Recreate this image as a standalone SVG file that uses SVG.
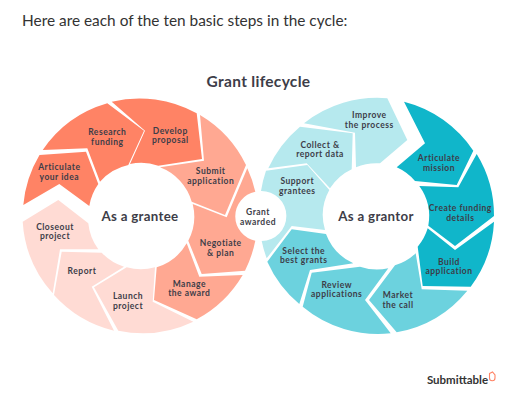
<svg xmlns="http://www.w3.org/2000/svg" width="530" height="404" viewBox="0 0 530 404">
<style>
text{font-family:Lato,"Liberation Sans",sans-serif;fill:#3d3d48;text-anchor:middle}
.l{font-size:8.5px;font-weight:700;letter-spacing:.5px}
.c{font-size:13.3px;font-weight:700;letter-spacing:.3px}
.a{fill:#ff8365}.b{fill:#ffa892}.d{fill:#ffdbd4}
.e{fill:#10b6ca}.f{fill:#6cd2de}.g{fill:#b6e9ee}
</style>
<rect width="530" height="404" fill="#fff"/>
<text x="22" y="26" style="text-anchor:start;font-size:15.4px;fill:#333">Here are each of the ten basic steps in the cycle:</text>
<text x="258.5" y="87" style="font-size:15.5px;font-weight:700;letter-spacing:.3px">Grant lifecycle</text>
<g id="grantee">
<g id="articulate-idea"><path class="a" d="M23.3 205A118 118 0 0 1 39.5 155L86 151.7 98.3 184A52 52 0 0 0 89.3 206L59.3 184Z"/><text class="l"><tspan x="59.3" y="170">Articulate</tspan><tspan x="59.3" y="179.7">your idea</tspan></text></g>
<g id="research-funding"><path class="a" d="M42.7 150A118 118 0 0 1 107.3 103.3L144 130.7 128.3 165A52 52 0 0 0 100 181.7L87.3 148.3Z"/><text class="l"><tspan x="107.3" y="135">Research</tspan><tspan x="107.3" y="144.5">funding</tspan></text></g>
<g id="develop-proposal"><path class="a" d="M111.7 101.7A118 118 0 0 1 196.7 113.3L202 159 158.3 165.7A52 52 0 0 0 130 164L145 130.7Z"/><text class="l"><tspan x="170.3" y="133.7">Develop</tspan><tspan x="170.3" y="143.2">proposal</tspan></text></g>
<g id="submit-application"><path class="b" d="M200 115A118 118 0 0 1 246 165L225 215 191.7 201.7A52 52 0 0 0 160 167.3L204 160.7Z"/><text class="l"><tspan x="210.7" y="174.3">Submit</tspan><tspan x="210.7" y="183.8">application</tspan></text></g>
<g id="negotiate-plan"><path class="b" d="M247.3 168.3A118 118 0 0 1 255.3 191.7A25 25 0 0 0 255.3 240.7A118 118 0 0 1 245 270.7L201.7 274 188.3 240.7A52 52 0 0 0 192.7 204L226.7 217.3Z"/><text class="l"><tspan x="220.7" y="246">Negotiate</tspan><tspan x="220.7" y="255.5">&amp; plan</tspan></text></g>
<g id="manage-award"><path class="b" d="M242.7 275A118 118 0 0 1 196.7 319.3L154 300 156.7 267.3A52 52 0 0 0 186.7 243.3L199.3 276.7Z"/><text class="l"><tspan x="189.3" y="286.7">Manage</tspan><tspan x="189.3" y="296.2">the award</tspan></text></g>
<g id="launch-project"><path class="d" d="M193.3 321.7A118 118 0 0 1 118.3 330.7L94 287.3 126.7 267.3A52 52 0 0 0 155 267.3L152.7 301.7Z"/><text class="l"><tspan x="128" y="299">Launch</tspan><tspan x="128" y="308.7">project</tspan></text></g>
<g id="report"><path class="d" d="M114 330.7A118 118 0 0 1 54 295L61.7 251.7 101.7 252.7A52 52 0 0 0 124 266.7L91.7 286.7Z"/><text class="l" x="82" y="274">Report</text></g>
<g id="closeout-project"><path class="d" d="M52.7 293.3A118 118 0 0 1 22.7 221.7L58.3 200 88.3 223.3A52 52 0 0 0 98.3 249.3L60 249.3Z"/><text class="l"><tspan x="55" y="229.7">Closeout</tspan><tspan x="55" y="239.2">project</tspan></text></g>
<g id="as-a-grantee"><text class="c" x="140" y="220.5">As a grantee</text></g>
</g>
<g id="grant-awarded"><text class="l"><tspan x="258" y="215.3">Grant</tspan><tspan x="258" y="224.8">awarded</tspan></text></g>
<g id="grantor">
<g id="articulate-mission"><path class="e" d="M404 101.7A118 118 0 0 1 473.3 150.7L456.7 185 415 181A52 52 0 0 0 396.7 167.3L425 143.3Z"/><text class="l"><tspan x="439" y="161">Articulate</tspan><tspan x="439" y="170.5">mission</tspan></text></g>
<g id="create-funding"><path class="e" d="M476.7 154A118 118 0 0 1 494 216L455 246 428.3 225.7A52 52 0 0 0 419.3 186L458.3 187.3Z"/><text class="l"><tspan x="460.3" y="211.3">Create funding</tspan><tspan x="460.3" y="221">details</tspan></text></g>
<g id="build-application"><path class="e" d="M494 221.7A118 118 0 0 1 470.7 286.7L422.7 286 417.7 246.7A52 52 0 0 0 427.7 228.3L455 250Z"/><text class="l"><tspan x="449" y="264.7">Build</tspan><tspan x="449" y="274.2">application</tspan></text></g>
<g id="market-call"><path class="f" d="M467.3 290.7A118 118 0 0 1 396.7 332.3L369 300 395 265.3A52 52 0 0 0 415.7 253.3L421.7 289.3Z"/><text class="l"><tspan x="398" y="298">Market</tspan><tspan x="398" y="307.5">the call</tspan></text></g>
<g id="review-applications"><path class="f" d="M390.7 333.3A118 118 0 0 1 302.7 306.7L311.7 272.7 360 266.7A52 52 0 0 0 388.3 268.3L365 300Z"/><text class="l"><tspan x="336.7" y="287.7">Review</tspan><tspan x="336.7" y="297.2">applications</tspan></text></g>
<g id="select-grants"><path class="f" d="M299.3 304A118 118 0 0 1 267.3 261.7L291.7 229.3 326 234A52 52 0 0 0 353.3 263.3L310 270Z"/><text class="l"><tspan x="303.7" y="253.7">Select the</tspan><tspan x="303.7" y="263.2">best grants</tspan></text></g>
<g id="support-grantees"><path class="g" d="M261 191A118 118 0 0 1 266 170.7L307.3 165 329.3 190A52 52 0 0 0 325 230L291.7 226 266.7 258.3A118 118 0 0 1 261.7 241A25 25 0 0 0 261 191Z"/><text class="l"><tspan x="297.3" y="184.3">Support</tspan><tspan x="297.3" y="193.8">grantees</tspan></text></g>
<g id="collect-report"><path class="g" d="M300 126.7A118 118 0 0 0 268.3 168.3L306.7 163.3 330 188.3A52 52 0 0 1 351.7 169.3L352.7 133.3Z"/><text class="l"><tspan x="320" y="147.7">Collect &amp;</tspan><tspan x="320" y="157.2">report data</tspan></text></g>
<g id="improve-process"><path class="g" d="M387.3 98.3A118 118 0 0 0 304 123.3L355 132.7 356 167.3A52 52 0 0 1 380 163.3L407.3 140Z"/><text class="l"><tspan x="369.3" y="118.3">Improve</tspan><tspan x="369.3" y="127.8">the process</tspan></text></g>
<g id="as-a-grantor"><text class="c" x="376" y="220.5">As a grantor</text></g>
</g>
<g id="logo"><text x="457.5" y="383.5" style="font-size:11.5px;font-weight:700;fill:#333">Submittable</text>
<path d="M489.5 373.5l3-1.5 2.5 3v3a2.7 2.7 0 0 1-5.5 0Z" fill="none" stroke="#ff8365" stroke-width="1.1"/></g>
</svg>
